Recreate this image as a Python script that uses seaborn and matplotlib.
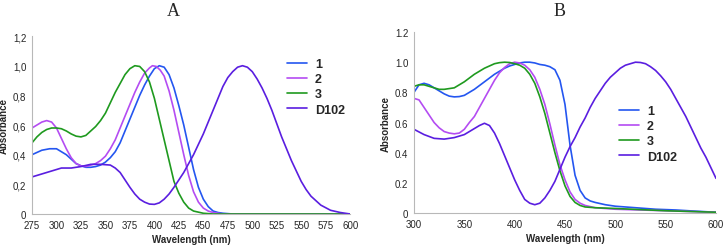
import pandas as pd
import numpy as np
import matplotlib
matplotlib.use("Agg")
import matplotlib.pyplot as plt
from matplotlib.ticker import FuncFormatter
import seaborn as sns

# Panel A spectra (wavelength nm, absorbance)
a1_x = [275, 285, 293, 300, 305, 310, 315, 320, 325, 330, 335, 340, 345, 350, 355, 360, 365, 370, 375, 380, 385, 390, 395, 400, 405, 410, 415, 420, 425, 430, 435, 440, 445, 450, 455, 460, 465, 470, 480, 600]
a1_y = [0.40, 0.43, 0.44, 0.44, 0.42, 0.40, 0.37, 0.34, 0.325, 0.315, 0.315, 0.32, 0.33, 0.35, 0.38, 0.42, 0.48, 0.56, 0.64, 0.72, 0.80, 0.87, 0.93, 0.98, 1.0, 0.99, 0.94, 0.85, 0.73, 0.60, 0.45, 0.30, 0.18, 0.10, 0.05, 0.02, 0.01, 0.005, 0.0, 0.0]
a2_x = [275, 280, 285, 290, 295, 300, 305, 310, 315, 320, 325, 330, 335, 340, 345, 350, 355, 360, 365, 370, 375, 380, 385, 390, 395, 398, 402, 406, 410, 415, 420, 425, 430, 435, 440, 445, 450, 455, 460, 470, 600]
a2_y = [0.58, 0.60, 0.62, 0.63, 0.62, 0.58, 0.51, 0.44, 0.38, 0.34, 0.325, 0.32, 0.33, 0.34, 0.36, 0.39, 0.44, 0.50, 0.58, 0.66, 0.74, 0.82, 0.89, 0.95, 0.985, 1.0, 0.995, 0.97, 0.93, 0.83, 0.70, 0.55, 0.40, 0.26, 0.15, 0.08, 0.04, 0.02, 0.01, 0.0, 0.0]
a3_x = [275, 280, 285, 290, 295, 300, 305, 310, 315, 320, 325, 330, 335, 340, 345, 350, 355, 360, 365, 370, 375, 380, 385, 390, 395, 400, 405, 410, 415, 420, 425, 430, 435, 440, 450, 460, 600]
a3_y = [0.48, 0.52, 0.55, 0.57, 0.58, 0.58, 0.575, 0.56, 0.54, 0.525, 0.52, 0.53, 0.56, 0.59, 0.63, 0.68, 0.75, 0.82, 0.88, 0.94, 0.98, 1.0, 0.995, 0.96, 0.89, 0.78, 0.64, 0.50, 0.36, 0.22, 0.14, 0.08, 0.04, 0.02, 0.005, 0.0, 0.0]
ad_x = [275, 285, 295, 305, 315, 325, 335, 345, 355, 360, 365, 370, 375, 380, 385, 390, 395, 400, 405, 410, 415, 420, 425, 430, 435, 440, 445, 450, 455, 460, 465, 470, 475, 480, 485, 490, 495, 500, 505, 510, 515, 520, 525, 530, 535, 540, 545, 550, 555, 560, 570, 580, 590, 600]
ad_y = [0.25, 0.27, 0.29, 0.31, 0.31, 0.32, 0.335, 0.335, 0.33, 0.31, 0.28, 0.23, 0.18, 0.135, 0.10, 0.08, 0.067, 0.065, 0.075, 0.10, 0.135, 0.18, 0.23, 0.28, 0.34, 0.40, 0.47, 0.54, 0.62, 0.70, 0.78, 0.86, 0.92, 0.96, 0.99, 1.0, 0.99, 0.96, 0.91, 0.85, 0.78, 0.70, 0.61, 0.52, 0.44, 0.36, 0.29, 0.22, 0.165, 0.12, 0.06, 0.025, 0.01, 0.0]

# Panel B spectra
b1_x = [300, 305, 310, 315, 320, 325, 330, 335, 340, 345, 350, 355, 360, 365, 370, 375, 380, 385, 390, 395, 400, 405, 410, 415, 420, 425, 430, 435, 440, 445, 450, 455, 460, 465, 470, 475, 480, 490, 500, 520, 540, 560, 580, 600]
b1_y = [0.80, 0.85, 0.86, 0.85, 0.83, 0.81, 0.79, 0.775, 0.77, 0.772, 0.78, 0.80, 0.82, 0.845, 0.87, 0.895, 0.92, 0.94, 0.96, 0.975, 0.985, 0.995, 1.0, 1.0, 0.995, 0.985, 0.98, 0.97, 0.95, 0.88, 0.72, 0.45, 0.25, 0.15, 0.10, 0.08, 0.07, 0.055, 0.045, 0.035, 0.025, 0.02, 0.012, 0.005]
b2_x = [300, 305, 310, 315, 320, 325, 330, 335, 340, 345, 350, 355, 360, 365, 370, 375, 380, 385, 390, 395, 400, 405, 410, 415, 420, 425, 430, 435, 440, 445, 450, 455, 460, 465, 470, 480, 500, 550, 600]
b2_y = [0.76, 0.75, 0.70, 0.65, 0.60, 0.565, 0.54, 0.53, 0.525, 0.53, 0.555, 0.60, 0.64, 0.70, 0.76, 0.82, 0.88, 0.93, 0.965, 0.99, 1.0, 0.995, 0.98, 0.95, 0.90, 0.82, 0.72, 0.59, 0.45, 0.32, 0.22, 0.14, 0.09, 0.065, 0.05, 0.035, 0.025, 0.015, 0.005]
b3_x = [300, 305, 310, 315, 320, 325, 330, 335, 340, 345, 350, 355, 360, 365, 370, 375, 380, 385, 390, 395, 400, 405, 410, 415, 420, 425, 430, 435, 440, 445, 450, 455, 460, 465, 470, 480, 500, 550, 600]
b3_y = [0.84, 0.85, 0.85, 0.84, 0.83, 0.82, 0.82, 0.825, 0.83, 0.85, 0.87, 0.895, 0.92, 0.94, 0.96, 0.975, 0.99, 0.997, 1.0, 0.998, 0.99, 0.98, 0.96, 0.92, 0.86, 0.77, 0.66, 0.53, 0.40, 0.28, 0.18, 0.11, 0.07, 0.05, 0.04, 0.035, 0.03, 0.015, 0.005]
bd_x = [300, 310, 320, 330, 340, 350, 355, 360, 365, 370, 375, 380, 385, 390, 395, 400, 405, 410, 415, 420, 425, 430, 435, 440, 445, 450, 455, 460, 465, 470, 475, 480, 485, 490, 495, 500, 505, 510, 515, 520, 525, 530, 535, 540, 545, 550, 555, 560, 565, 570, 575, 580, 585, 590, 595, 600]
bd_y = [0.555, 0.52, 0.495, 0.49, 0.50, 0.52, 0.54, 0.56, 0.58, 0.595, 0.58, 0.53, 0.46, 0.38, 0.30, 0.22, 0.15, 0.09, 0.065, 0.055, 0.065, 0.10, 0.15, 0.21, 0.29, 0.37, 0.44, 0.50, 0.57, 0.63, 0.70, 0.76, 0.81, 0.86, 0.90, 0.93, 0.96, 0.98, 0.99, 1.0, 0.998, 0.99, 0.97, 0.945, 0.91, 0.87, 0.82, 0.76, 0.70, 0.64, 0.57, 0.50, 0.43, 0.37, 0.30, 0.23]

labels = ["1", "2", "3", "D102"]
colors = ["#2456f0", "#b44cf2", "#1f9a1f", "#5a1ee0"]


def long_df(series):
    frames = []
    for lab, (xs, ys) in zip(labels, series):
        frames.append(pd.DataFrame({"wl": xs, "abs": ys, "cmp": lab}))
    return pd.concat(frames, ignore_index=True)


df_a = long_df([(a1_x, a1_y), (a2_x, a2_y), (a3_x, a3_y), (ad_x, ad_y)])
df_b = long_df([(b1_x, b1_y), (b2_x, b2_y), (b3_x, b3_y), (bd_x, bd_y)])

sns.set_style("white")
plt.rcParams['font.family'] = ['Liberation Sans', 'DejaVu Sans']

fig = plt.figure(figsize=(7.23, 2.51), dpi=100)
ax_a = fig.add_axes([0.0443, 0.1434, 0.440, 0.709])
ax_b = fig.add_axes([0.5726, 0.1474, 0.4177, 0.721])

for ax, d in [(ax_a, df_a), (ax_b, df_b)]:
    sns.lineplot(data=d, x="wl", y="abs", hue="cmp", palette=colors,
                 hue_order=labels, linewidth=1.2, ax=ax, sort=False)
    ax.set_ylim(0, 1.2)
    ax.set_yticks(np.arange(0, 1.21, 0.2))
    for s in ["top", "right"]:
        ax.spines[s].set_visible(False)
    for s in ["left", "bottom"]:
        ax.spines[s].set_color("#b8b8b8")
        ax.spines[s].set_linewidth(0.8)
    ax.tick_params(labelsize=7, length=2, color="#b8b8b8", pad=2)
    ax.set_xlabel("Wavelength (nm)", fontsize=7, fontweight="bold", labelpad=3)
    ax.set_ylabel("Absorbance", fontsize=7, fontweight="bold", labelpad=3)

ax_a.set_xlim(275, 600)
ax_a.set_xticks(range(275, 601, 25))
ax_a.yaxis.set_major_formatter(FuncFormatter(
    lambda v, p: "0" if abs(v) < 1e-9 else f"{v:.1f}".replace(".", ",")))
ax_b.set_xlim(300, 600)
ax_b.set_xticks(range(300, 601, 50))
ax_b.yaxis.set_major_formatter(FuncFormatter(
    lambda v, p: "0" if abs(v) < 1e-9 else f"{v:.1f}"))

ax_a.legend(loc="upper left", bbox_to_anchor=(281 / 723, 1 - 53 / 251),
            bbox_transform=fig.transFigure, frameon=False,
            prop={"weight": "bold", "size": 9}, handlelength=1.6,
            labelspacing=0.25, handletextpad=0.6, borderpad=0)
ax_b.legend(loc="upper left", bbox_to_anchor=(613 / 723, 1 - 100 / 251),
            bbox_transform=fig.transFigure, frameon=False,
            prop={"weight": "bold", "size": 9}, handlelength=1.6,
            labelspacing=0.25, handletextpad=0.6, borderpad=0)

fig.text(173 / 723, 1 - 11 / 251, "A", ha="center", va="center",
         fontsize=13, family="Liberation Serif")
fig.text(560 / 723, 1 - 11 / 251, "B", ha="center", va="center",
         fontsize=13, family="Liberation Serif")

fig.savefig("out.png", dpi=100)
